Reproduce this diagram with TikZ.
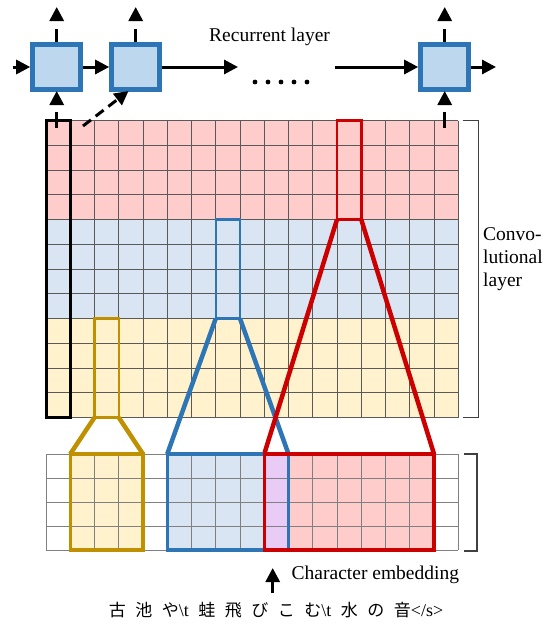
\documentclass[tikz,border=0pt]{standalone}
\usepackage{fontspec}
\setmainfont{Liberation Serif}
\newfontfamily\cjk{Noto Sans CJK JP}
\usetikzlibrary{arrows.meta}
\definecolor{rpink}{RGB}{255,204,204}
\definecolor{rblue}{RGB}{218,229,243}
\definecolor{ryel}{RGB}{255,242,204}
\definecolor{rpur}{RGB}{232,204,246}
\definecolor{cred}{RGB}{204,0,0}
\definecolor{cblue}{RGB}{46,117,182}
\definecolor{cgold}{RGB}{191,144,0}
\definecolor{cellfill}{RGB}{189,215,238}
\newcommand\jc[1]{{\cjk\fontsize{17}{17}\selectfont #1}}
\newcommand\hl[1]{{\fontsize{18}{18}\selectfont #1}}
\newcommand\jgap{\hspace{9.5pt}}
\begin{document}
\begin{tikzpicture}[x=1pt,y=-1pt,
  gridl/.style={draw=black!65, line width=0.9pt},
  gridb/.style={draw=black!50, line width=0.9pt},
  rnn/.style={draw=cblue, fill=cellfill, line width=5pt, minimum width=48pt, minimum height=45.5pt, inner sep=0pt},
  harr/.style={line width=3pt, -{Triangle[length=14pt,width=14pt]}},
  stem/.style={line width=3pt},
  tiponly/.style={line width=3pt, -{Triangle[length=14pt,width=14pt]}},
  lbl/.style={font=\fontsize{19.5}{23}\selectfont, inner sep=0pt},
  winline/.style={line width=2.5pt},
  fanline/.style={line width=4.5pt},
  selbox/.style={line width=3.2pt},
  brk/.style={draw=black!75, line width=1.3pt}
]
\useasboundingbox (0,0) rectangle (551,624);
\fill[white] (0,0) rectangle (551,624);

% ---- convolutional grid fills
\fill[rpink] (46,120.5) rectangle (458.25,219.5);
\fill[rblue] (46,219.5) rectangle (458.25,318.5);
\fill[ryel] (46,318.5) rectangle (458.25,417.5);
% ---- embedding fills
\fill[ryel] (70.25,454) rectangle (143,550);
\fill[rblue] (167.25,454) rectangle (264.25,550);
\fill[rpur] (264.25,454) rectangle (288.5,550);
\fill[rpink] (288.5,454) rectangle (434,550);

% ---- grid lines
\foreach \i in {0,...,17} {
  \draw[gridl] ({46+\i*24.25},120.5) -- ({46+\i*24.25},417.5);
  \draw[gridb] ({46+\i*24.25},454) -- ({46+\i*24.25},550);
}
\foreach \j in {0,...,12}
  \draw[gridl] (46,{120.5+\j*24.75}) -- (458.25,{120.5+\j*24.75});
\foreach \j in {0,...,4}
  \draw[gridb] (46,{454+\j*24}) -- (458.25,{454+\j*24});

% ---- black column
\draw[black, line width=3pt] (46,120.5) rectangle (70.25,417.5);

% ---- windows
\draw[winline, cred] (337,120.5) rectangle (361.25,219.5);
\draw[winline, cblue] (215.75,219.5) rectangle (240,318.5);
\draw[winline, cgold] (94.5,318.5) rectangle (118.75,417.5);

% ---- fan lines
\draw[fanline, cgold] (94.5,417.5) -- (70.25,454) (118.75,417.5) -- (143,454);
\draw[fanline, cblue] (215.75,318.5) -- (167.25,454) (240,318.5) -- (288.5,454);
\draw[fanline, cred] (337,219.5) -- (264.25,454) (361.25,219.5) -- (434,454);

% ---- selected embedding boxes
\draw[selbox, cgold] (70.25,454) rectangle (143,550);
\draw[selbox, cblue] (167.25,454) rectangle (288.5,550);
\draw[selbox, cred] (264.25,454) rectangle (434,550);
\draw[selbox, cblue] (288.5,455.6) -- (288.5,548.4);

% ---- brackets
\draw[brk] (462.5,120.5) -- (478.5,120.5) -- (478.5,417.5) -- (462.5,417.5);
\draw[brk] (464,454) -- (477,454) -- (477,551) -- (464,551);

% ---- recurrent layer
\node[rnn] (b1) at (56.7,67) {};
\node[rnn] (b2) at (135.7,67) {};
\node[rnn] (b3) at (444.7,67) {};

% upward outputs (stem, gap, tip)
\foreach \n/\x in {b1/56.7, b2/135.7, b3/444.7} {
  \coordinate (s\n) at (\x,29);
  \coordinate (tb\n) at (\x,21);
  \coordinate (u\n) at (\x,7);
  \draw[stem] (\n.north) -- (s\n);
  \draw[tiponly] (tb\n) -- (u\n);
}
% inputs from convolutional layer (stem, gap, tip)
\foreach \n/\x in {b1/56.7, b3/444.7} {
  \coordinate (d\n) at (\x,128);
  \coordinate (e\n) at (\x,112);
  \coordinate (f\n) at (\x,105);
  \coordinate (g\n) at (\x,91);
  \draw[stem] (d\n) -- (e\n);
  \draw[tiponly] (f\n) -- (g\n);
}
\coordinate (ds) at (83,126);
\coordinate (dt) at (128.5,91);
\draw[line width=3pt, dash pattern=on 10pt off 6pt, -{Triangle[length=14pt,width=14pt]}] (ds) -- (dt);

\coordinate (l0) at (12.7,67);
\coordinate (m1) at (238,67);
\coordinate (m2) at (335,67);
\coordinate (r0) at (496,67);
\draw[harr] (l0) -- (b1.west);
\draw[harr] (b1.east) -- (b2.west);
\draw[harr] (b2.east) -- (m1);
\draw[harr] (m2) -- (b3.west);
\draw[harr] (b3.east) -- (r0);

\foreach \x in {255,268,281,294,307}
  \fill (\x,82) circle[radius=2.4pt];

\node[lbl, anchor=base west] (rl) at (209,41.7) {Recurrent layer};
\node[lbl, anchor=west, align=left] (conv) at (483,259) {Convo-\\lutional\\layer};

% ---- character embedding
\coordinate (ce0) at (272.7,593);
\coordinate (ce1) at (272.7,568);
\draw[harr] (ce0) -- (ce1);
\node[lbl, anchor=west] (ce) at (291.5,575) {Character embedding};

\node[inner sep=0pt] (hk) at (276,610) {\jc{古}\jgap\jc{池}\jgap\jc{や}\hl{\textbackslash t}\jgap\jc{蛙}\jgap\jc{飛}\jgap\jc{び}\jgap\jc{こ}\jgap\jc{む}\hl{\textbackslash t}\jgap\jc{水}\jgap\jc{の}\jgap\jc{音}\hl{</s>}};
\end{tikzpicture}
\end{document}
